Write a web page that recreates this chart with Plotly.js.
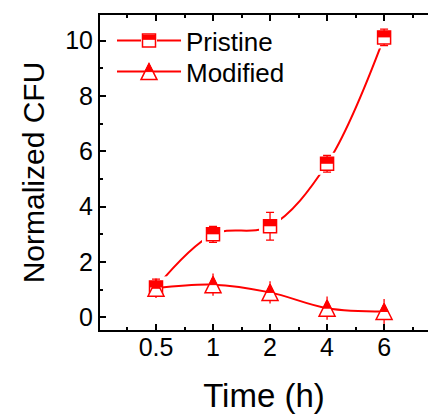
<!DOCTYPE html>
<html>
<head>
<meta charset="utf-8">
<script src="https://cdn.plot.ly/plotly-3.0.1.min.js"></script>
<style>html,body{margin:0;padding:0;background:#fff;}#chart{width:428px;height:417px;}</style>
</head>
<body>
<div id="chart"></div>
<script>
// ---- data ----
var categories = ['0.5', '1', '2', '4', '6'];
var pristine = [1.08, 3.0, 3.29, 5.55, 10.12];
var pristineErr = [0.3, 0.29, 0.5, 0.3, 0.3];
var modified = [1.05, 1.18, 0.9, 0.33, 0.21];
var modifiedErr = [0.35, 0.4, 0.4, 0.42, 0.45];
var seriesNames = ['Pristine', 'Modified'];

// ---- layout constants ----
var W = 428, H = 417;
var M = {l: 100, r: 0, t: 15, b: 87};
var plotH = H - M.t - M.b, plotW = W - M.l - M.r;
var yRange = [-0.46, 10.93];
var xRange = [-0.982, 4.77];
var RED = '#ff0000';
var FONT = 'Liberation Sans, Arial, sans-serif';
var sqSize = 13, triSize = 16;
var sqShift = sqSize / 4;     // top half of square: centre offset
var triShift = triSize / 2;   // arrow-up symbol hangs below its apex
var unitsPerPx = (yRange[1] - yRange[0]) / plotH;
function shifted(px) { return [yRange[0] - px * unitsPerPx, yRange[1] - px * unitsPerPx]; }

var xIdx = categories.map(function (_, i) { return i; });

var legendFont = {family: FONT, size: 26, color: '#000'};
var legLeftPx = 112;
var rowCenterPx = [40.7, 71.7];

function legendCfg(row, dy) {
  return {x: (legLeftPx - M.l) / plotW,
          y: 1 - (rowCenterPx[row] - dy - M.t) / plotH,
          xanchor: 'left', yanchor: 'middle',
          bgcolor: 'rgba(0,0,0,0)', borderwidth: 0, font: legendFont, itemwidth: 64};
}

var traces = [
  // pristine spline line (legend row 1 with text)
  {x: xIdx, y: pristine, mode: 'lines', name: seriesNames[0], legend: 'legend',
   line: {color: RED, width: 2, shape: 'spline'}, hoverinfo: 'skip'},
  // white gap around pristine markers
  {x: xIdx, y: pristine, mode: 'markers', name: '', legend: 'legend2',
   marker: {symbol: 'square', size: 22, color: '#ffffff', line: {width: 0}}, hoverinfo: 'skip'},
  // modified spline line (legend row 2 with text)
  {x: xIdx, y: modified, mode: 'lines', name: seriesNames[1], legend: 'legend5',
   line: {color: RED, width: 2, shape: 'spline'}, hoverinfo: 'skip'},
  // modified error bars
  {x: xIdx, y: modified, mode: 'markers', name: seriesNames[1], showlegend: false,
   error_y: {type: 'data', array: modifiedErr, visible: true, color: RED, thickness: 1.3, width: 0},
   marker: {size: 1, color: 'rgba(0,0,0,0)'}, hoverinfo: 'skip'},
  // pristine outline markers + error bars
  {x: xIdx, y: pristine, mode: 'markers', name: '', legend: 'legend3',
   error_y: {type: 'data', array: pristineErr, visible: true, color: RED, thickness: 1.3, width: 4},
   marker: {symbol: 'square', size: sqSize, color: '#ffffff', line: {color: RED, width: 1.5}}},
  // pristine filled top half
  {x: xIdx, y: pristine, yaxis: 'y2', mode: 'markers', name: '', legend: 'legend4',
   marker: {symbol: 'line-ew', size: sqSize / 1.4, color: RED, line: {color: RED, width: sqSize / 2}}, hoverinfo: 'skip'},
  // modified outline triangles
  {x: xIdx, y: modified, yaxis: 'y3', mode: 'markers', name: '', legend: 'legend6',
   marker: {symbol: 'arrow-up', size: triSize, color: '#ffffff', line: {color: RED, width: 1.5}}},
  // modified filled top half
  {x: xIdx, y: modified, yaxis: 'y3', mode: 'markers', name: '', legend: 'legend7',
   marker: {symbol: 'arrow-up', size: triSize / 2, color: RED, line: {color: RED, width: 1}}, hoverinfo: 'skip'}
];

var axisCommon = {showgrid: false, zeroline: false, showline: true, linecolor: '#000', linewidth: 2,
  ticks: 'inside', ticklen: 6, tickwidth: 2, tickcolor: '#000',
  tickfont: {family: FONT, size: 25, color: '#000'}};

var layout = {
  width: W, height: H, margin: M,
  paper_bgcolor: '#fff', plot_bgcolor: 'rgba(0,0,0,0)',
  font: {family: FONT},
  xaxis: Object.assign({}, axisCommon, {
    range: xRange, mirror: 'ticks', tickmode: 'array', tickvals: xIdx, ticktext: categories,
    ticklabelstandoff: -6,
    minor: {tickmode: 'linear', tick0: 0, dtick: 0.5, ticks: 'inside', ticklen: 3, tickwidth: 2, tickcolor: '#000'},
    title: {text: 'Time (h)', font: {family: FONT, size: 33, color: '#000'}, standoff: 24}
  }),
  yaxis: Object.assign({}, axisCommon, {
    range: yRange, tickmode: 'linear', tick0: 0, dtick: 2,
    minor: {tickmode: 'linear', tick0: 0, dtick: 1, ticks: 'inside', ticklen: 3, tickwidth: 2, tickcolor: '#000'},
    title: {text: 'Normalized CFU', font: {family: FONT, size: 30, color: '#000'}, standoff: 12}
  }),
  yaxis2: {overlaying: 'y', range: shifted(sqShift), visible: false, showgrid: false, zeroline: false},
  yaxis3: {overlaying: 'y', range: shifted(triShift), visible: false, showgrid: false, zeroline: false},
  legend: legendCfg(0, 0),
  legend2: legendCfg(0, 0),
  legend3: legendCfg(0, 0),
  legend4: legendCfg(0, sqShift),
  legend5: legendCfg(1, 0),
  legend6: legendCfg(1, triShift),
  legend7: legendCfg(1, triShift),
  showlegend: true
};

Plotly.newPlot('chart', traces, layout, {displayModeBar: false, staticPlot: true});
</script>
</body>
</html>
